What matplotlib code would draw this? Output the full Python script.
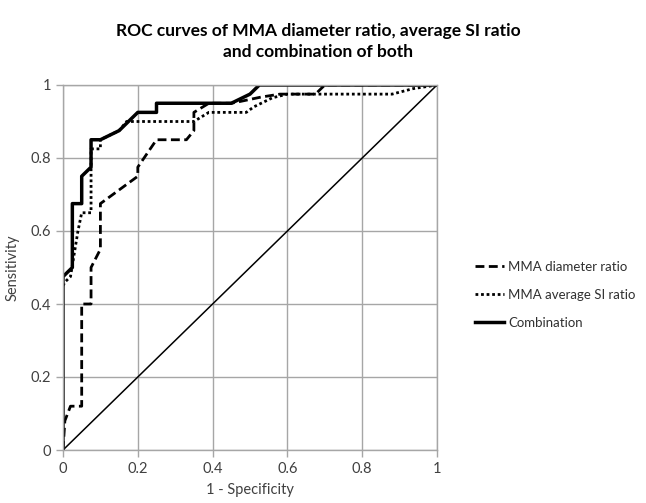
import numpy as np
import matplotlib
matplotlib.use('Agg')
import matplotlib.pyplot as plt

plt.rcParams['font.family'] = ['Lato', 'DejaVu Sans']

# MMA diameter ratio (dashed)
diam_x = [0, 0.005, 0.02, 0.05, 0.05, 0.075, 0.075, 0.1, 0.1, 0.2, 0.2, 0.25, 0.33, 0.35, 0.35, 0.39,
          0.45, 0.465, 0.53, 0.58, 0.675, 0.7, 1]
diam_y = [0, 0.08, 0.12, 0.12, 0.4, 0.4, 0.5, 0.55, 0.675, 0.75, 0.775, 0.85, 0.85, 0.875, 0.925, 0.95,
          0.95, 0.953, 0.967, 0.975, 0.975, 1, 1]

# MMA average SI ratio (dotted)
si_x = [0, 0.005, 0.02, 0.04, 0.05, 0.075, 0.075, 0.1, 0.1, 0.15, 0.17, 0.35, 0.39, 0.49, 0.51, 0.56,
        0.6, 0.88, 0.936, 1]
si_y = [0.45, 0.46, 0.475, 0.6, 0.65, 0.65, 0.825, 0.825, 0.85, 0.875, 0.9, 0.9, 0.925, 0.925, 0.94, 0.965,
        0.975, 0.975, 0.99, 1]

# combination (solid)
comb_x = [0, 0, 0.025, 0.025, 0.05, 0.05, 0.075, 0.075, 0.1, 0.15, 0.2, 0.25, 0.25, 0.45, 0.5, 0.525, 1]
comb_y = [0, 0.475, 0.5, 0.675, 0.675, 0.75, 0.775, 0.85, 0.85, 0.875, 0.925, 0.925, 0.95, 0.95, 0.975, 1, 1]

ticks = [0, 0.2, 0.4, 0.6, 0.8, 1]
tick_labels = ['0', '0.2', '0.4', '0.6', '0.8', '1']

fig = plt.figure(figsize=(6.46, 5.03), dpi=100)
ax = fig.add_axes([63/646, 53/503, 374/646, 365/503])

grey = '#a6a6a6'
ax.grid(True, color=grey, linewidth=1)
ax.set_axisbelow(True)
for s in ax.spines.values():
    s.set_color(grey)
    s.set_linewidth(1)

ax.plot([0, 1], [0, 1], color='black', linewidth=1.1)
ax.plot(diam_x, diam_y, color='black', linestyle=(0, (3.2, 1.6)), linewidth=2, label='MMA diameter ratio')
ax.plot(si_x, si_y, color='black', linestyle=(0, (1, 1)), linewidth=2, label='MMA average SI ratio')
ax.plot(comb_x, comb_y, color='black', linewidth=2.5, label='Combination')

ax.set_xlim(0, 1)
ax.set_ylim(0, 1)
ax.set_xticks(ticks)
ax.set_xticklabels(tick_labels)
ax.set_yticks(ticks)
ax.set_yticklabels(tick_labels)
ax.tick_params(colors=grey, labelcolor='#404040', labelsize=10.5, length=5, width=1)
ax.set_xlabel('1 - Specificity', fontsize=10.5, color='#404040', labelpad=5)
ax.set_ylabel('Sensitivity', fontsize=10.5, color='#404040', labelpad=8)

fig.text(0.493, 0.918, 'ROC curves of MMA diameter ratio, average SI ratio\nand combination of both',
         ha='center', va='center', fontsize=12.5, fontweight='bold', linespacing=1.35)

leg = ax.legend(loc='center left', bbox_to_anchor=(1.07, 0.425), frameon=False, fontsize=9.5,
                handlelength=2.2, handletextpad=0.3, labelspacing=1.2, labelcolor='#303030')

fig.savefig('out.png', dpi=100)
